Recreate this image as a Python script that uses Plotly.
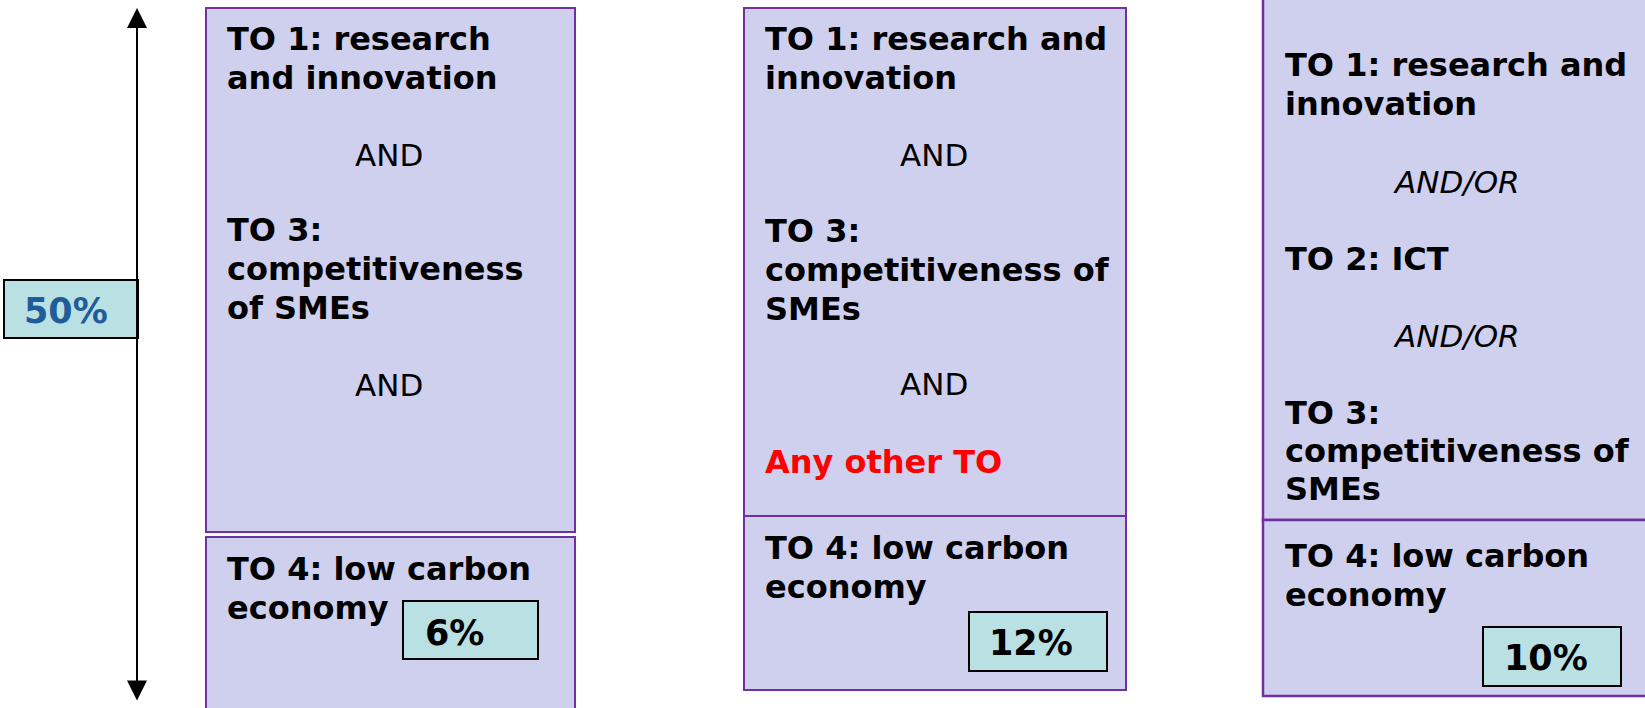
import plotly.graph_objects as go

# ---- content ----
shares = [50, 6, 12, 10]  # ring-fencing shares shown in the small boxes
panel1_lines = ["TO 1: research", "and innovation", "AND", "TO 3:", "competitiveness",
                "of SMEs", "AND"]
panel2_lines = ["TO 1: research and", "innovation", "AND", "TO 3:", "competitiveness of",
                "SMEs", "AND", "Any other TO"]
panel3_lines = ["TO 1: research and", "innovation", "AND/OR", "TO 2: ICT", "AND/OR",
                "TO 3:", "competitiveness of", "SMEs"]
low_carbon_lines = ["TO 4: low carbon", "economy"]

# ---- styles / geometry ----
W, H = 1645, 708
FILL = "#cfcfee"
EDGE = "#7030a0"
PCT_FILL = "#b9e0e3"
FONT = "DejaVu Sans"
FS = 32

fig = go.Figure()
shapes = []
annotations = []


def rect(x0, y0, x1, y1, fill, line, width=2):
    shapes.append(dict(type="rect", xref="x", yref="y", x0=x0, y0=y0, x1=x1, y1=y1,
                       fillcolor=fill, line=dict(color=line, width=width), layer="below"))


def text(x, y, s, style="bold", color="black", anchor="left", size=FS):
    if style == "bold":
        s = f"<b>{s}</b>"
    elif style == "italic":
        s = f"<i>{s}</i>"
    annotations.append(dict(x=x, y=y, xref="x", yref="y", text=s, showarrow=False,
                            xanchor=anchor, yanchor="middle",
                            font=dict(family=FONT, size=size, color=color)))


# panels
rect(206, 8, 575, 532, FILL, EDGE)
rect(206, 537, 575, 730, FILL, EDGE)
rect(744, 8, 1126, 516, FILL, EDGE)
rect(744, 516, 1126, 690, FILL, EDGE)
rect(1263, -30, 1680, 520, FILL, EDGE, 2.5)
rect(1263, 520, 1680, 696, FILL, EDGE, 2.5)

# panel 1 text
p1_y = [39, 78, 155, 230, 269, 308, 385]
for s, y in zip(panel1_lines, p1_y):
    if s == "AND":
        text(389, y, s, style="regular", anchor="center", size=31)
    else:
        text(225, y, s)

# panel 2 text
p2_y = [39, 78, 155, 231, 270, 309, 384, 462]
for s, y in zip(panel2_lines, p2_y):
    if s == "AND":
        text(934, y, s, style="regular", anchor="center", size=31)
    elif s.startswith("Any"):
        text(763, y, s, color="#ff0000")
    else:
        text(763, y, s)

# panel 3 text
p3_y = [65, 104, 182, 259, 336, 413, 451, 489]
for s, y in zip(panel3_lines, p3_y):
    if s == "AND/OR":
        text(1456, y, s, style="italic", anchor="center", size=31)
    else:
        text(1283, y, s)

# low carbon text in each lower panel
for x, ys in [(225, [569, 608]), (763, [548, 587]), (1283, [556, 595])]:
    for s, y in zip(low_carbon_lines, ys):
        text(x, y, s)

# percentage boxes
pct_boxes = [(4, 280, 138, 338), (403, 601, 538, 659), (969, 612, 1107, 671), (1483, 627, 1621, 686)]
pct_text = [(66, 311), (454, 633), (1031, 643), (1546, 658)]
pct_colors = ["#1f5c99", "black", "black", "black"]
for v, (x0, y0, x1, y1), (tx, ty), c in zip(shares, pct_boxes, pct_text, pct_colors):
    rect(x0, y0, x1, y1, PCT_FILL, "black", 2)
    text(tx, ty, f"{v}%", color=c, anchor="center", size=35)

# double-headed vertical arrow
annotations.append(dict(x=137, y=8, ax=137, ay=702, xref="x", yref="y", axref="x", ayref="y",
                        text="", showarrow=True, arrowhead=2, startarrowhead=2,
                        arrowside="end+start", arrowsize=2, startarrowsize=2,
                        arrowwidth=2, arrowcolor="black"))

fig.update_layout(
    width=W, height=H, margin=dict(l=0, r=0, t=0, b=0),
    paper_bgcolor="white", plot_bgcolor="white",
    xaxis=dict(range=[0, W], visible=False, fixedrange=True),
    yaxis=dict(range=[H, 0], visible=False, fixedrange=True),
    shapes=shapes, annotations=annotations, showlegend=False,
)

fig.write_html("out.html", config={"displayModeBar": False},
               post_script="document.body.style.margin='0px';document.body.style.overflow='hidden';")
